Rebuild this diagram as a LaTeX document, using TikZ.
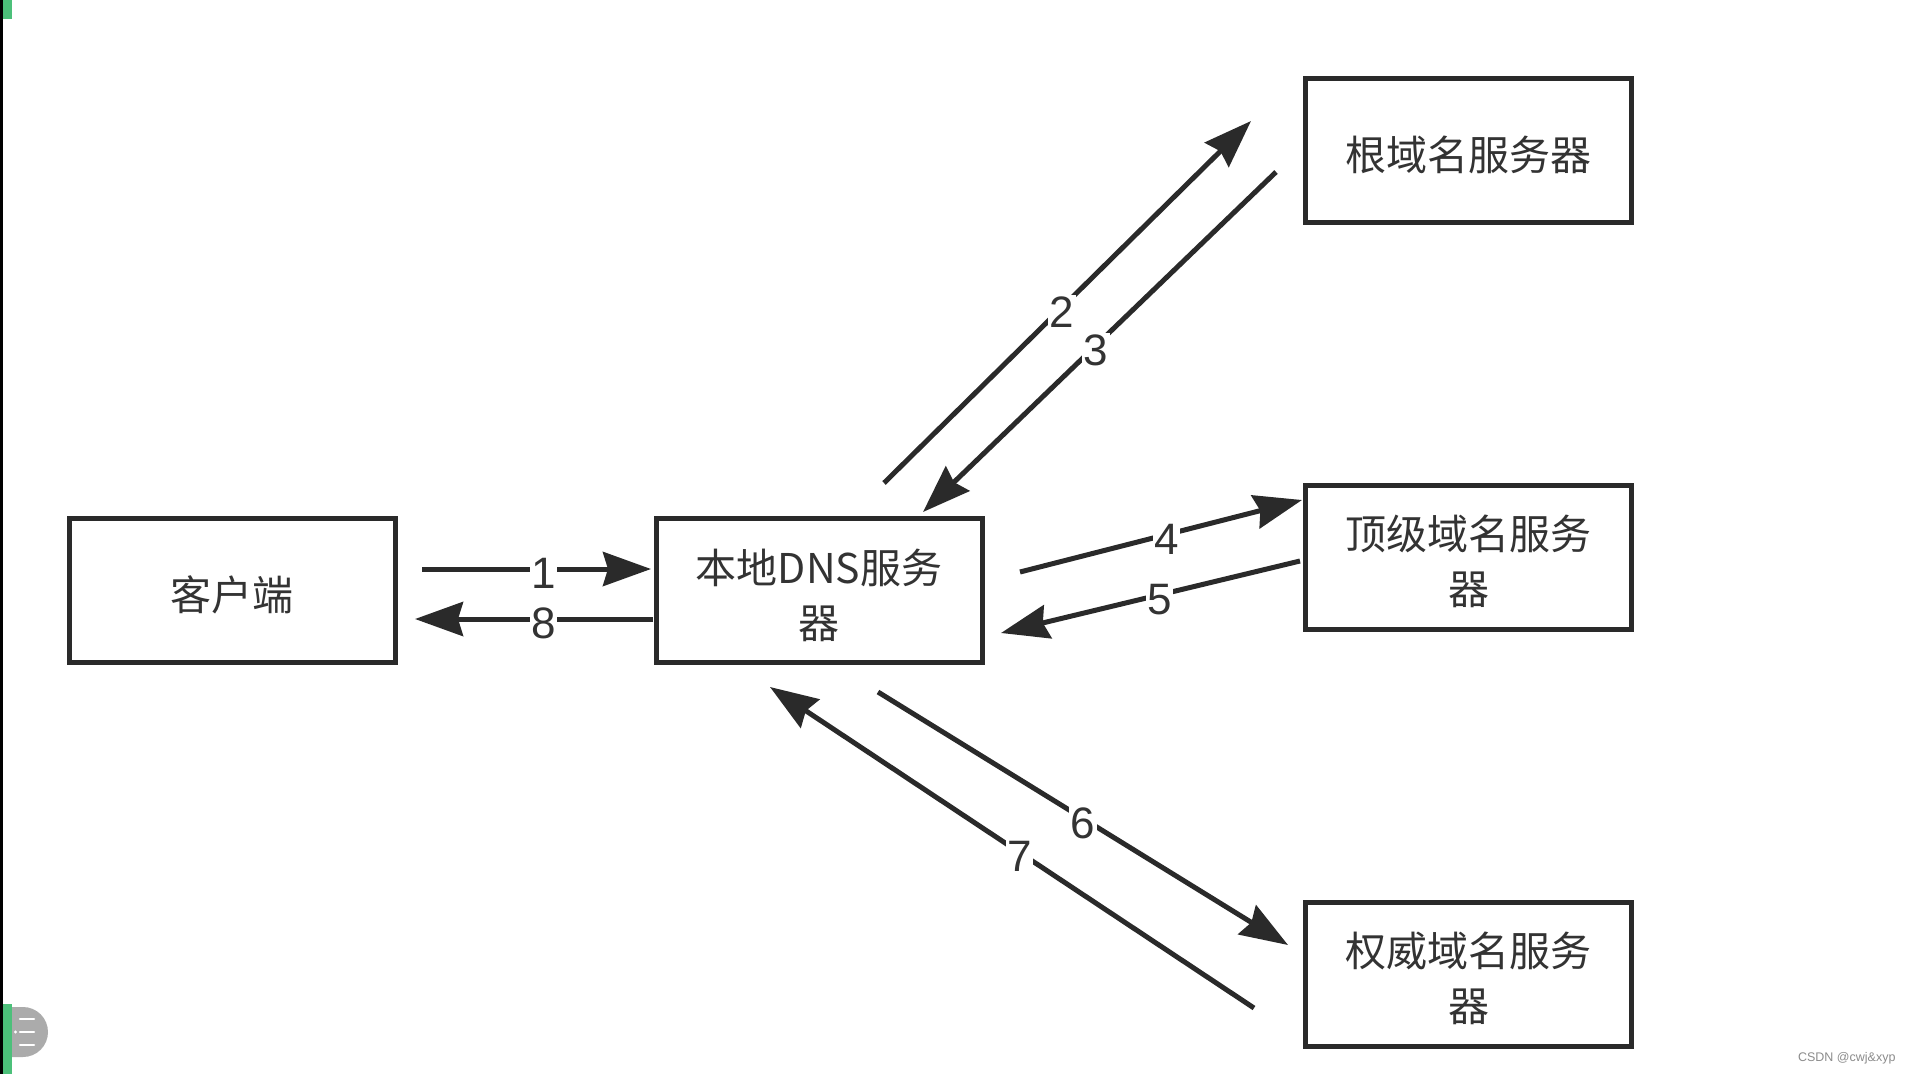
\documentclass[tikz,border=0pt]{standalone}
\usepackage{fontspec}
\setmainfont{Liberation Sans}
\newfontfamily\cjk{Noto Sans CJK SC}
\usetikzlibrary{arrows.meta}
\definecolor{ink}{HTML}{2A2A2A}
\definecolor{txt}{HTML}{333333}
\definecolor{grn}{HTML}{4CC07A}
\begin{document}
\begin{tikzpicture}[x=1pt,y=-1pt,
  box/.style={draw=ink,line width=5pt,minimum width=326pt,minimum height=144pt,inner sep=0pt},
  boxtxt/.style={inner sep=0pt,font=\cjk\fontsize{41}{55}\selectfont,text=txt,align=center},
  conn/.style={draw=ink,line width=5pt,-{Stealth[length=48pt,width=34pt,inset=5pt]}},
  lbl/.style={fill=white,inner sep=1.5pt,yshift=-4.5pt,text=txt,font=\fontsize{44}{44}\selectfont}]
\useasboundingbox (0,0) rectangle (1913,1074);
\fill[white] (0,0) rectangle (1913,1074);
% left edge decorations
\fill[black] (0,0) rectangle (2.5,1074);
\fill[grn] (2.5,0) rectangle (12,19);
\fill[grn] (2.5,1004) rectangle (12,1074);
\fill[black!33] (12,1007) -- (23,1007) arc[start angle=-90,end angle=90,radius=25] -- (12,1057) -- cycle;
\foreach \yy in {1019,1032,1045} {\draw[white,line width=2.5pt,line cap=round] (20,\yy) -- (34,\yy);}
\fill[white] (15.5,1032) circle (1.6);
% boxes
\node[box] (cli) at (232,590.5) {};
\node[box] (dns) at (819,590.5) {};
\node[box] (root) at (1468.5,150.5) {};
\node[box] (tld) at (1468.5,557.5) {};
\node[box] (auth) at (1468.5,974) {};
\node[boxtxt] (clit) at ([yshift=-4pt]cli.center) {客户端};
\node[boxtxt] (dnst) at ([yshift=-5pt]dns.center) {本地DNS服务\\器};
\node[boxtxt] (roott) at ([yshift=-4pt]root.center) {根域名服务器};
\node[boxtxt] (tldt) at ([yshift=-4pt]tld.center) {顶级域名服务\\器};
\node[boxtxt] (autht) at ([yshift=-4pt]auth.center) {权威域名服务\\器};
% arrow endpoints
\coordinate (a1s) at (422,569);  \coordinate (a1e) at (651,569);
\coordinate (a8s) at (653,619);  \coordinate (a8e) at (415,619);
\coordinate (a2s) at (884,483);  \coordinate (a2e) at (1251,121);
\coordinate (a3s) at (1276,172); \coordinate (a3e) at (923,512);
\coordinate (a4s) at (1020,572); \coordinate (a4e) at (1302,500);
\coordinate (a5s) at (1300,561); \coordinate (a5e) at (1001,633);
\coordinate (a6s) at (878,692);  \coordinate (a6e) at (1288,945);
\coordinate (a7s) at (1254,1008);\coordinate (a7e) at (770,687);
% connectors
\draw[conn] (a1s) -- node[lbl,pos=0.53] (l1) {1} (a1e);
\draw[conn] (a8s) -- node[lbl,pos=0.46] (l8) {8} (a8e);
\draw[conn] (a2s) -- node[lbl,pos=0.485] (l2) {2} (a2e);
\draw[conn] (a3s) -- node[lbl,pos=0.51] (l3) {3} (a3e);
\draw[conn] (a4s) -- node[lbl,pos=0.52] (l4) {4} (a4e);
\draw[conn] (a5s) -- node[lbl,pos=0.47] (l5) {5} (a5e);
\draw[conn] (a6s) -- node[lbl,pos=0.50] (l6) {6} (a6e);
\draw[conn] (a7s) -- node[lbl,pos=0.485] (l7) {7} (a7e);
% watermark
\node[text=black!45,font=\fontsize{12.5}{13}\selectfont,anchor=east] (wm) at (1899,1058) {CSDN @cwj\&xyp};
\end{tikzpicture}
\end{document}
